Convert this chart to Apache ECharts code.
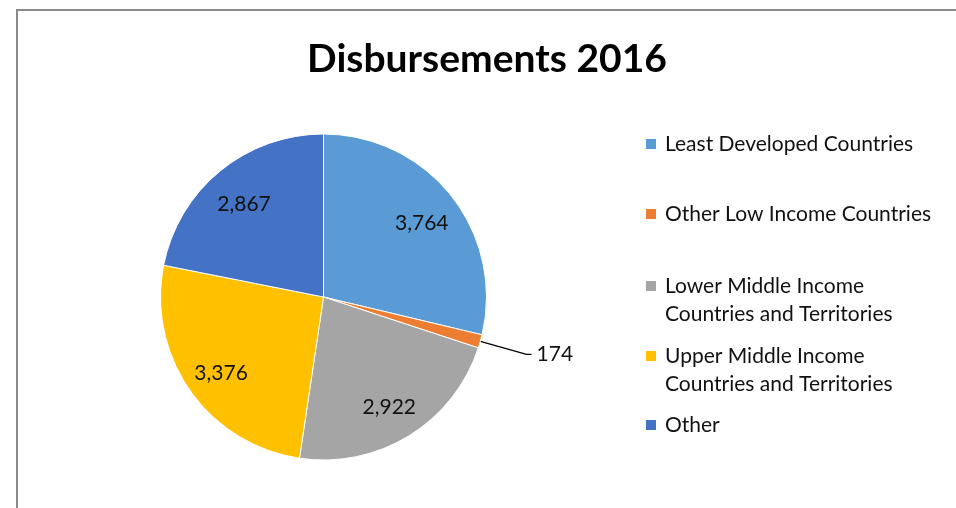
<!DOCTYPE html>
<html>
<head>
<meta charset="utf-8">
<script src="https://cdn.jsdelivr.net/npm/echarts@6/dist/echarts.min.js"></script>
<style>
html,body{margin:0;padding:0;background:#fff;}
#chart{width:956px;height:508px;}
</style>
</head>
<body>
<div id="chart"></div>
<script>
const titleText = 'Disbursements 2016';
const categories = [
  'Least Developed Countries',
  'Other Low Income Countries',
  'Lower Middle Income Countries and Territories',
  'Upper Middle Income Countries and Territories',
  'Other'
];
const legendLabels = [
  'Least Developed Countries',
  'Other Low Income Countries',
  'Lower Middle Income\nCountries and Territories',
  'Upper Middle Income\nCountries and Territories',
  'Other'
];
const values = [3764, 174, 2922, 3376, 2867];
const colors = ['#5B9BD5', '#ED7D31', '#A5A5A5', '#FFC000', '#4472C4'];
const outsideLabel = [false, true, false, false, false];

const FONT = 'Lato';
const fmt = v => v.toLocaleString('en-US');

const chart = echarts.init(document.getElementById('chart'), null, {renderer: 'canvas'});

const center = [323.5, 297];
const R = 163;

const legendFirstLine = [143, 213, 285, 355, 424];
const legends = categories.map((name, i) => {
  const multi = legendLabels[i].indexOf('\n') >= 0;
  return {
    orient: 'vertical',
    left: 639,
    top: legendFirstLine[i] - (multi ? 46 : 18),
    itemWidth: 12,
    itemHeight: 12,
    icon: 'rect',
    selectedMode: false,
    data: [name],
    formatter: () => (multi ? '\n' : '') + legendLabels[i],
    textStyle: {
      fontFamily: FONT,
      fontSize: 21,
      color: '#111',
      lineHeight: 28,
      padding: [0, 0, 0, 3]
    }
  };
});

const pieData = categories.map((name, i) => ({
  name, value: values[i], itemStyle: {color: colors[i]}
}));

const labelData = categories.map((name, i) => ({
  name, value: values[i],
  label: outsideLabel[i] ? {
    show: true, position: 'outside', fontFamily: FONT, fontSize: 21, color: '#111',
    formatter: p => fmt(p.value), padding: [0, 0, 0, 0]
  } : {
    show: true, position: 'inside', fontFamily: FONT, fontSize: 21, color: '#111',
    formatter: p => fmt(p.value), offset: [0, 4]
  },
  labelLine: outsideLabel[i] ? {show: true, length: 48, length2: 5, lineStyle: {color: '#000', width: 1.3}} : {show: false}
}));

chart.setOption({
  backgroundColor: '#fff',
  animation: false,
  color: colors,
  title: {
    text: titleText,
    left: 482, top: 54,
    textAlign: 'center',
    textVerticalAlign: 'middle',
    textStyle: {fontFamily: FONT, fontWeight: 'bold', fontSize: 39, color: '#000'}
  },
  graphic: [{
    type: 'rect', silent: true, z: -10,
    shape: {x: 17, y: 10, width: 1200, height: 1200},
    style: {fill: 'none', stroke: '#8a8a8a', lineWidth: 2}
  }],
  legend: legends,
  series: [{
    type: 'pie',
    center: center,
    radius: [0, R],
    startAngle: 90,
    clockwise: true,
    avoidLabelOverlap: false,
    silent: true,
    label: {show: false},
    labelLine: {show: false},
    itemStyle: {borderColor: '#fff', borderWidth: 1},
    data: pieData
  }, {
    type: 'pie',
    center: center,
    radius: [R * 0.5, R],
    startAngle: 90,
    clockwise: true,
    avoidLabelOverlap: false,
    silent: true,
    legendHoverLink: false,
    itemStyle: {color: 'rgba(0,0,0,0)', borderWidth: 0},
    emphasis: {disabled: true},
    data: labelData
  }]
});
</script>
</body>
</html>
